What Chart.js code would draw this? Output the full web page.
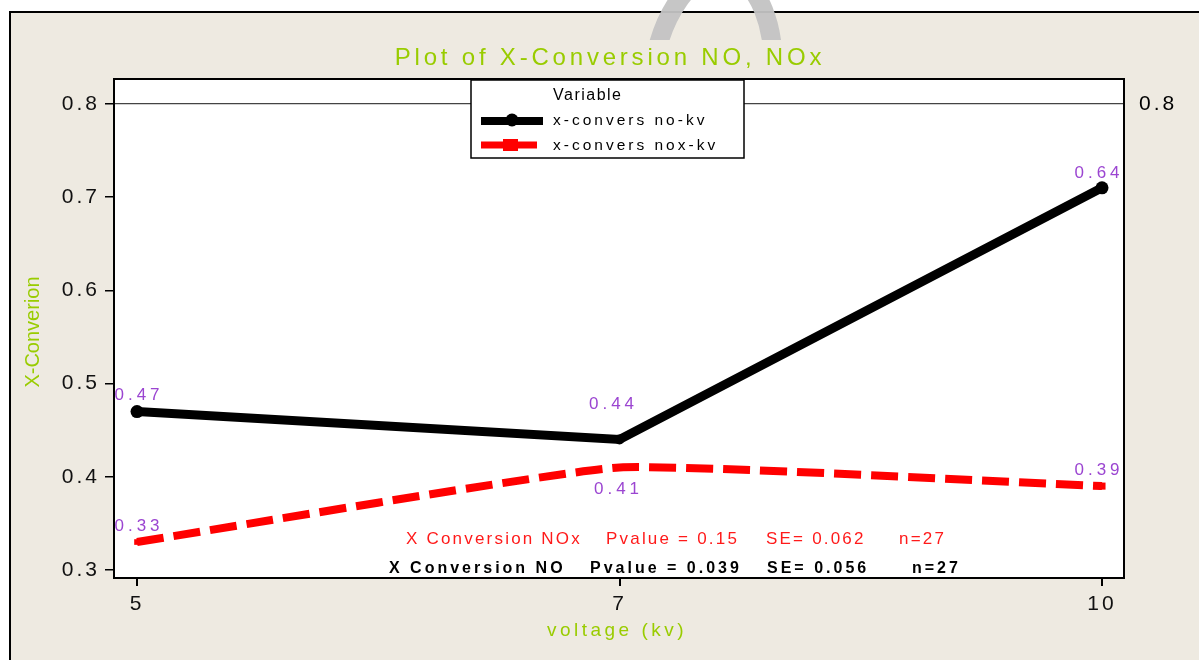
<!DOCTYPE html>
<html>
<head>
<meta charset="utf-8">
<script src="https://cdn.jsdelivr.net/npm/chart.js@4/dist/chart.umd.min.js"></script>
<style>
  html, body { margin: 0; padding: 0; background: #fff; }
  #wrap { position: relative; width: 1199px; height: 660px; }
</style>
</head>
<body>
<div id="wrap"><canvas id="chart" width="1199" height="660"></canvas></div>
<script>
// data
const voltages = ['5', '7', '10'];
const xPos = [0, 1, 2];
const noValues = [0.47, 0.44, 0.71];
const noxValues = [0.33, 0.41, 0.39];
const noLabels = ['0.47', '0.44', '0.64'];
const noxLabels = ['0.33', '0.41', '0.39'];
const yTicks = [0.3, 0.4, 0.5, 0.6, 0.7, 0.8];
const refLine = 0.8;

const titleText = 'Plot of X-Conversion NO, NOx';
const yTitle = 'X-Converion';
const xTitle = 'voltage (kv)';
const legendHeader = 'Variable';
const seriesNames = ['x-convers no-kv', 'x-convers nox-kv'];
const noxStats = ['X Conversion NOx', 'Pvalue = 0.15', 'SE= 0.062', 'n=27'];
const noStats = ['X Conversion NO', 'Pvalue = 0.039', 'SE= 0.056', 'n=27'];

const FONT = "'Liberation Sans', Arial, sans-serif";
const GREEN = '#99cc00';
const PURPLE = '#9b45d1';
const BEIGE = '#eeeae1';

function spacedText(ctx, text, x, y, opts) {
    ctx.save();
    ctx.font = opts.font;
    ctx.fillStyle = opts.color;
    ctx.letterSpacing = (opts.spacing || 0) + 'px';
    ctx.textAlign = opts.align || 'left';
    ctx.textBaseline = 'middle';
    if (opts.rotate) {
        ctx.translate(x, y);
        ctx.rotate(opts.rotate);
        ctx.fillText(text, 0, 0);
    } else {
        ctx.fillText(text, x, y);
    }
    ctx.restore();
}

const decorations = {
    id: 'decorations',
    beforeDraw: (chart) => {
        const { ctx, chartArea } = chart;
        const { top, bottom, left, right } = chartArea;
        ctx.save();
        // page background and outer frame
        ctx.fillStyle = '#fff';
        ctx.fillRect(0, 0, chart.width, chart.height);
        ctx.fillStyle = BEIGE;
        ctx.fillRect(10, 12, chart.width - 10, chart.height - 12);
        ctx.strokeStyle = '#000';
        ctx.lineWidth = 2;
        ctx.beginPath();
        ctx.moveTo(10, chart.height);
        ctx.lineTo(10, 12);
        ctx.lineTo(chart.width, 12);
        ctx.stroke();
        // plot area
        ctx.fillStyle = '#fff';
        ctx.fillRect(left, top, right - left, bottom - top);
        ctx.restore();
        ctx.letterSpacing = '3px';
    },
    beforeDatasetsDraw: (chart) => {
        const { ctx, chartArea } = chart;
        const { top, bottom, left, right } = chartArea;
        ctx.save();
        ctx.letterSpacing = '0px';
        ctx.strokeStyle = '#000';
        ctx.lineWidth = 2;
        ctx.strokeRect(left, top, right - left, bottom - top);
        ctx.restore();
    },
    afterDraw: (chart) => {
        const { ctx, scales } = chart;
        const { x, y } = scales;

        // titles
        spacedText(ctx, titleText, 610, 58, { font: `24px ${FONT}`, color: GREEN, spacing: 3.8, align: 'center' });
        spacedText(ctx, yTitle, 33, 332, { font: `20px ${FONT}`, color: GREEN, spacing: 0, align: 'center', rotate: -Math.PI / 2 });
        spacedText(ctx, xTitle, 617, 631, { font: `19px ${FONT}`, color: GREEN, spacing: 3.5, align: 'center' });

        // value labels
        const noOff = [[0, -16], [-8, -35], [-5, -15]];
        const noxOff = [[0, -16], [-3, 22], [-5, -16]];
        noLabels.forEach((t, i) => {
            spacedText(ctx, t, x.getPixelForValue(xPos[i]) + noOff[i][0] + 2, y.getPixelForValue(noValues[i]) + noOff[i][1],
                { font: `17px ${FONT}`, color: PURPLE, spacing: 4, align: 'center' });
        });
        noxLabels.forEach((t, i) => {
            spacedText(ctx, t, x.getPixelForValue(xPos[i]) + noxOff[i][0] + 2, y.getPixelForValue(noxValues[i]) + noxOff[i][1],
                { font: `17px ${FONT}`, color: PURPLE, spacing: 4, align: 'center' });
        });

        // stats text
        const redX = [406, 606, 766, 899];
        noxStats.forEach((t, i) => spacedText(ctx, t, redX[i], 539, { font: `17px ${FONT}`, color: '#ff1a1a', spacing: 2.2 }));
        const blkX = [389, 590, 767, 912];
        noStats.forEach((t, i) => spacedText(ctx, t, blkX[i], 569, { font: `bold 16px ${FONT}`, color: '#000', spacing: 3 }));

        // legend box
        ctx.save();
        ctx.fillStyle = '#fff';
        ctx.fillRect(471, 80, 273, 78);
        ctx.strokeStyle = '#000';
        ctx.lineWidth = 1.5;
        ctx.strokeRect(471, 80, 273, 78);
        ctx.lineWidth = 8;
        ctx.strokeStyle = '#000';
        ctx.beginPath();
        ctx.moveTo(481, 121);
        ctx.lineTo(543, 121);
        ctx.stroke();
        ctx.fillStyle = '#000';
        ctx.beginPath();
        ctx.arc(512, 120, 6.5, 0, Math.PI * 2);
        ctx.fill();
        ctx.strokeStyle = '#ff0000';
        ctx.lineWidth = 7;
        ctx.beginPath();
        ctx.moveTo(481, 145);
        ctx.lineTo(537, 145);
        ctx.stroke();
        ctx.fillStyle = '#ff0000';
        ctx.fillRect(503, 139, 15, 12);
        ctx.restore();
        spacedText(ctx, legendHeader, 553, 96, { font: `16px ${FONT}`, color: '#000', spacing: 1.5 });
        spacedText(ctx, seriesNames[0], 553, 121, { font: `15.5px ${FONT}`, color: '#000', spacing: 3 });
        spacedText(ctx, seriesNames[1], 553, 146, { font: `15.5px ${FONT}`, color: '#000', spacing: 3 });

        // faint watermark stroke at the top
        ctx.save();
        ctx.beginPath();
        ctx.rect(0, 0, chart.width, 40);
        ctx.clip();
        ctx.strokeStyle = 'rgba(195,195,195,0.95)';
        ctx.lineWidth = 19;
        ctx.beginPath();
        ctx.ellipse(712, 82, 60, 110, 0.12, 0, Math.PI * 2);
        ctx.stroke();
        ctx.restore();
    },
};

const yRange = { min: 0.2914, max: 0.8268 };

new Chart(document.getElementById('chart'), {
    type: 'line',
    data: {
        datasets: [
            {
                label: seriesNames[0],
                data: xPos.map((v, i) => ({ x: v, y: noValues[i] })),
                borderColor: '#000',
                backgroundColor: '#000',
                borderWidth: 9,
                pointRadius: [6.5, 5, 6.5],
                pointBorderWidth: 0,
                tension: 0,
                yAxisID: 'y',
            },
            {
                label: seriesNames[1],
                data: xPos.map((v, i) => ({ x: v, y: noxValues[i] })),
                borderColor: '#ff0000',
                backgroundColor: '#ff0000',
                borderWidth: 8,
                borderDash: [27, 10],
                tension: 0.12,
                pointStyle: 'rect',
                pointRadius: [4, 0, 5],
                pointBorderWidth: 0,
                yAxisID: 'y',
            },
        ],
    },
    options: {
        responsive: false,
        animation: false,
        devicePixelRatio: 1,
        layout: { padding: { top: 79, left: 0, right: 0, bottom: 0 } },
        plugins: {
            legend: { display: false },
            title: { display: false },
            tooltip: { enabled: false },
        },
        scales: {
            x: {
                type: 'linear',
                min: -0.0477,
                max: 2.0456,
                afterBuildTicks: (axis) => { axis.ticks = xPos.map((v) => ({ value: v })); },
                afterFit: (axis) => { axis.height = 82; },
                ticks: {
                    callback: (v) => voltages[v],
                    color: '#111',
                    font: { family: FONT, size: 21 },
                    padding: 6,
                    maxRotation: 0,
                },
                grid: { drawOnChartArea: false, drawTicks: true, tickLength: 8, color: '#000', lineWidth: 2 },
                border: { display: true, color: '#000', width: 2 },
            },
            y: {
                position: 'left',
                min: yRange.min,
                max: yRange.max,
                afterBuildTicks: (axis) => { axis.ticks = yTicks.map((v) => ({ value: v })); },
                afterFit: (axis) => { axis.width = 114; },
                ticks: {
                    callback: (v) => v.toFixed(1),
                    color: '#111',
                    font: { family: FONT, size: 21 },
                    padding: 5,
                },
                grid: { drawOnChartArea: false, drawTicks: true, tickLength: 9, color: '#000', lineWidth: 1.5 },
                border: { display: true, color: '#000', width: 2 },
            },
            y2: {
                position: 'right',
                min: yRange.min,
                max: yRange.max,
                afterBuildTicks: (axis) => { axis.ticks = [{ value: refLine }]; },
                afterFit: (axis) => { axis.width = 75; },
                ticks: {
                    callback: (v) => v.toFixed(1),
                    color: '#000',
                    font: { family: FONT, size: 21 },
                    padding: 15,
                },
                grid: { drawOnChartArea: true, drawTicks: false, color: '#444', lineWidth: 1.2 },
                border: { display: false },
            },
        },
    },
    plugins: [decorations],
});
</script>
</body>
</html>
